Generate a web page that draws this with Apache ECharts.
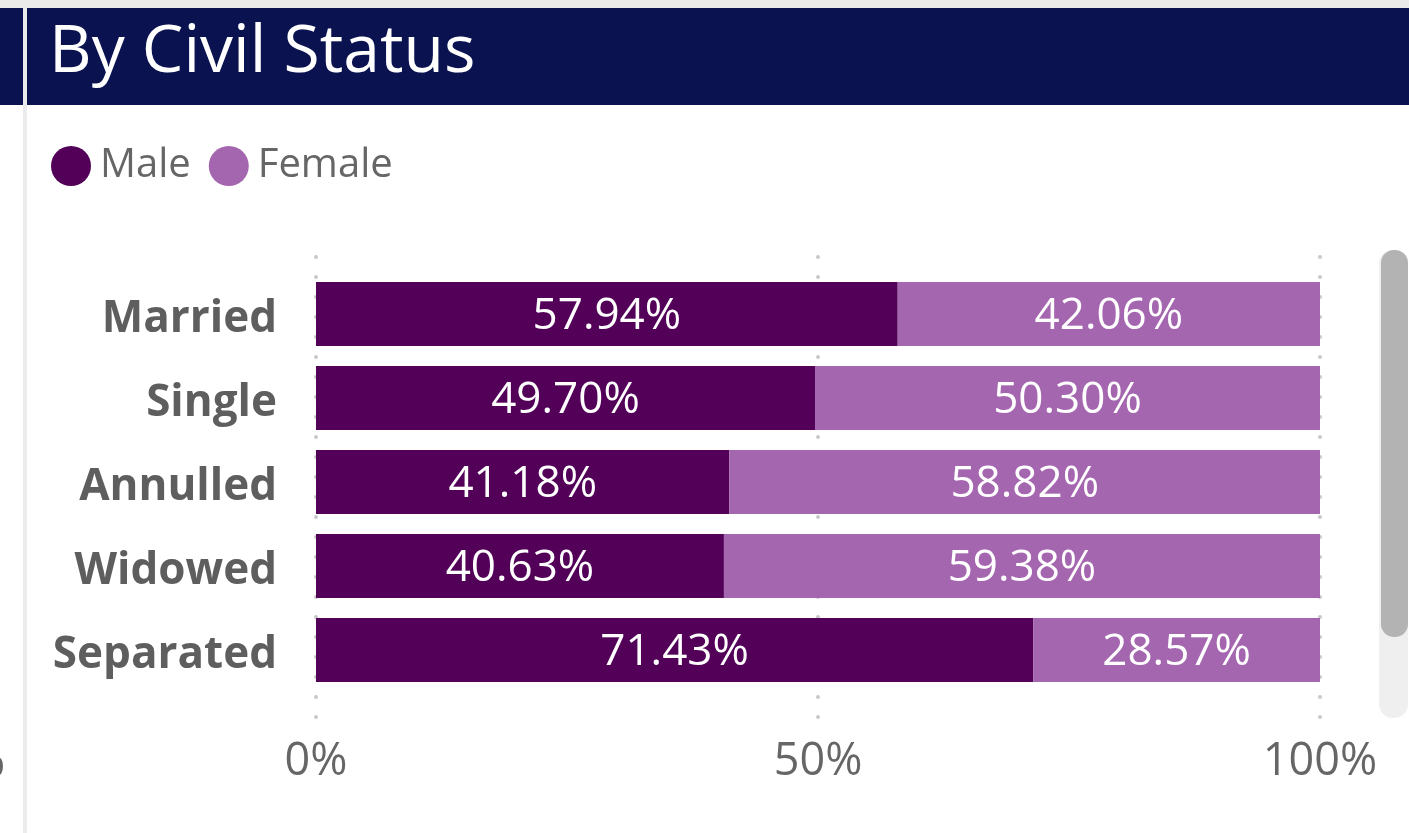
<!DOCTYPE html>
<html><head><meta charset="utf-8">
<script src="https://cdn.jsdelivr.net/npm/echarts@6/dist/echarts.min.js"></script>
<style>html,body{margin:0;padding:0;background:#fff;}#c{width:1409px;height:833px;}</style>
</head><body><div id="c"></div>
<script>
var categories = ['Married', 'Single', 'Annulled', 'Widowed', 'Separated'];
var maleValues = [57.94, 49.70, 41.18, 40.63, 71.43];
var femaleValues = [42.06, 50.30, 58.82, 59.38, 28.57];
var seriesNames = ['Male', 'Female'];
var xTicks = [0, 50, 100];
var titleText = 'By Civil Status';

var MALE = '#520058', FEMALE = '#a566b0', NAVY = '#0a1250';
var chart = echarts.init(document.getElementById('c'), null, {renderer: 'canvas'});
var font = '"Open Sans", "Segoe UI", sans-serif';

chart.setOption({
  animation: false,
  backgroundColor: '#ffffff',
  graphic: [
    {type: 'rect', shape: {x: 0, y: 0, width: 1409, height: 8}, style: {fill: '#eaeaea'}, z: 0},
    {type: 'rect', shape: {x: 0, y: 8, width: 1409, height: 97}, style: {fill: NAVY}, z: 0},
    {type: 'rect', shape: {x: 23, y: 8, width: 4, height: 825}, style: {fill: '#ebebeb'}, z: 1},
    {type: 'text', left: 49, top: 20, style: {text: titleText, fill: '#ffffff', font: '500 66px ' + font}, z: 2},
    {type: 'text', x: 5, y: 763, style: {text: '0%', fill: '#666666', font: '44px ' + font, align: 'right', verticalAlign: 'middle'}, z: 2},
    {type: 'rect', shape: {x: 1379, y: 250, width: 29, height: 468, r: 14}, style: {fill: '#efefef'}, z: 1},
    {type: 'rect', shape: {x: 1381, y: 250, width: 27, height: 387, r: 13}, style: {fill: '#b3b3b3'}, z: 2}
  ],
  legend: {
    left: 46, top: 141,
    icon: 'circle', itemWidth: 40, itemHeight: 40, itemGap: 18,
    textStyle: {color: '#666666', fontSize: 40, fontFamily: font, padding: [0, 0, 0, 4]},
    data: seriesNames
  },
  grid: [
    {left: 316, right: 89, top: 272, bottom: 141, containLabel: false},
    {left: 316, right: 89, top: 257, bottom: 115, containLabel: false}
  ],
  xAxis: [
    {type: 'value', gridIndex: 0, min: 0, max: 100, show: false},
    {type: 'value', gridIndex: 1, min: 0, max: 100, interval: 50,
     axisLine: {show: false}, axisTick: {show: false},
     splitLine: {show: true, lineStyle: {color: '#c8c8c8', width: 4, type: [0.1, 19.9], cap: 'round'}},
     axisLabel: {color: '#666666', fontSize: 45, fontFamily: font, margin: 22,
       formatter: function (v) { return xTicks.indexOf(v) >= 0 ? v + '%' : ''; }}
    }
  ],
  yAxis: [
    {type: 'category', gridIndex: 0, data: categories, inverse: true,
     axisLine: {show: false}, axisTick: {show: false}, splitLine: {show: false},
     axisLabel: {margin: 39,
       formatter: function (v) { return '{c|' + v + '}'; },
       rich: {c: {color: '#5e5e5e', fontSize: 44, fontWeight: 'bold', fontFamily: font,
         lineHeight: 60, padding: [10, 0, 0, 0]}}}},
    {type: 'value', gridIndex: 1, show: false}
  ],
  series: [
    {name: seriesNames[0], type: 'bar', stack: 's', xAxisIndex: 0, yAxisIndex: 0, barWidth: 64, z: 3,
     itemStyle: {color: MALE}, data: maleValues,
     label: {show: true, position: 'inside', color: '#ffffff', fontSize: 44, fontFamily: font, offset: [0, 2],
       formatter: function (p) { return p.value.toFixed(2) + '%'; }}},
    {name: seriesNames[1], type: 'bar', stack: 's', xAxisIndex: 0, yAxisIndex: 0, barWidth: 64, z: 3,
     itemStyle: {color: FEMALE}, data: femaleValues,
     label: {show: true, position: 'inside', color: '#ffffff', fontSize: 44, fontFamily: font, offset: [0, 2],
       formatter: function (p) { return p.value.toFixed(2) + '%'; }}}
  ]
});
</script></body></html>
